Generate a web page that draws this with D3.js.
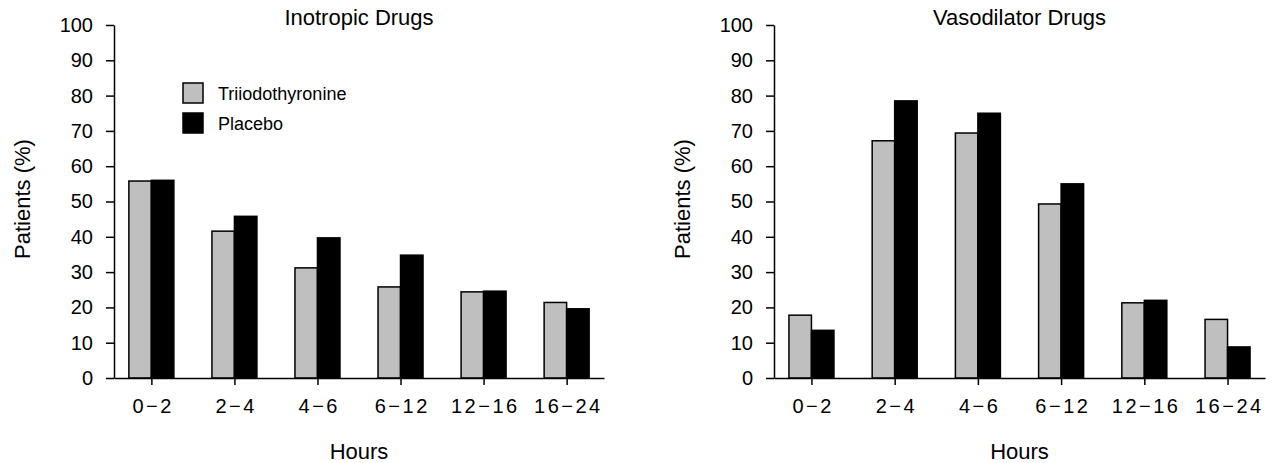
<!DOCTYPE html>
<html>
<head>
<meta charset="utf-8">
<script src="https://cdn.jsdelivr.net/npm/d3@7"></script>
<style>
  body { margin: 0; background: #fff; }
  text { font-family: "Liberation Sans", Arial, Helvetica, sans-serif; fill: #000; }
  .axis path, .axis line { stroke: #000; stroke-width: 1.5; }
  .axis text { font-size: 20px; font-family: "Liberation Sans", Arial, sans-serif; fill: #000; }
</style>
</head>
<body>
<svg id="chart" width="1273" height="463"></svg>
<script>
const categories = ['0\u22122', '2\u22124', '4\u22126', '6\u221212', '12\u221216', '16\u221224'];
const yTicks = [0, 10, 20, 30, 40, 50, 60, 70, 80, 90, 100];
const seriesNames = ['Triiodothyronine', 'Placebo'];

// Inotropic drugs (%)
const inotropicT3 = [55.8, 41.6, 31.2, 25.8, 24.4, 21.4];
const inotropicPlacebo = [56.0, 45.8, 39.7, 34.8, 24.6, 19.6];

// Vasodilator drugs (%)
const vasoT3 = [17.8, 67.2, 69.4, 49.3, 21.3, 16.6];
const vasoPlacebo = [13.5, 78.5, 75.0, 55.0, 22.0, 8.8];

const svg = d3.select('#chart');
const colors = ['#bfbfbf', '#000'];
const barW = 22.5;

const yTop = 25, yBot = 378;
const y = d3.scaleLinear().domain([0, 100]).range([yBot, yTop]);

function panel(x0, x1, title, t3, plac, showLegend) {
  const g = svg.append('g');
  const x = d3.scalePoint().domain(categories).range([x0, x1]).padding(0.45);

  // bars
  const rows = categories.map((c, i) => ({ c: c, v: [t3[i], plac[i]] }));
  rows.forEach(r => {
    g.append('rect')
      .attr('x', x(r.c) - barW).attr('y', y(r.v[0]))
      .attr('width', barW).attr('height', y(0) - y(r.v[0]))
      .attr('fill', colors[0]).attr('stroke', '#000').attr('stroke-width', 1.5);
    g.append('rect')
      .attr('x', x(r.c)).attr('y', y(r.v[1]))
      .attr('width', barW).attr('height', y(0) - y(r.v[1]))
      .attr('fill', colors[1]).attr('stroke', '#000').attr('stroke-width', 1.5);
  });

  // Y axis
  g.append('g').attr('class', 'axis')
    .attr('transform', 'translate(' + x0 + ',0)')
    .call(d3.axisLeft(y).tickValues(yTicks).tickSize(8).tickSizeOuter(0).tickPadding(13));

  // X axis
  const xa = g.append('g').attr('class', 'axis')
    .attr('transform', 'translate(0,' + yBot + ')')
    .call(d3.axisBottom(x).tickSize(7).tickSizeOuter(0).tickPadding(14));
  xa.selectAll('text').attr('letter-spacing', '2.5px').attr('dx', '1.25px');

  // labels
  const cx = (x0 + x1) / 2;
  g.append('text').attr('x', cx).attr('y', 25)
    .attr('text-anchor', 'middle').style('font-size', '22px').text(title);
  g.append('text').attr('x', cx).attr('y', 459)
    .attr('text-anchor', 'middle').style('font-size', '22px').text('Hours');
  g.append('text')
    .attr('transform', 'translate(' + (x0 - 84) + ',199) rotate(-90)')
    .attr('text-anchor', 'middle').style('font-size', '22px').text('Patients (%)');

  if (showLegend) {
    const lg = g.append('g').attr('transform', 'translate(183,83)');
    seriesNames.forEach((s, i) => {
      lg.append('rect').attr('x', 0).attr('y', i * 30)
        .attr('width', 20).attr('height', 20)
        .attr('fill', colors[i]).attr('stroke', '#000').attr('stroke-width', 1.5);
      lg.append('text').attr('x', 35).attr('y', i * 30 + 17)
        .style('font-size', '18px').text(s);
    });
  }
}

panel(114, 604, 'Inotropic Drugs', inotropicT3, inotropicPlacebo, true);
panel(774, 1265, 'Vasodilator Drugs', vasoT3, vasoPlacebo, false);
</script>
</body>
</html>
